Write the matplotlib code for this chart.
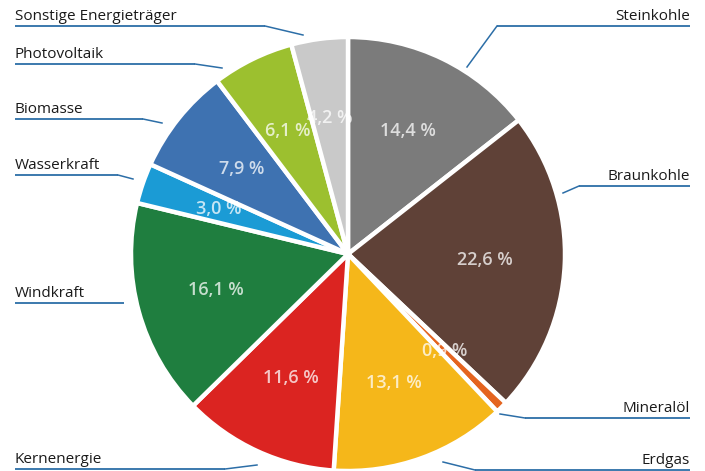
"""Bruttostromerzeugung nach Energietraegern als Tortendiagramm."""
import matplotlib
matplotlib.use("Agg")
import numpy as np
import matplotlib.pyplot as plt

plt.rcParams["font.family"] = ["Open Sans", "DejaVu Sans"]

# Anteile in Prozent, im Uhrzeigersinn ab 12 Uhr
sources = ["Steinkohle", "Braunkohle", "Mineralöl", "Erdgas", "Kernenergie",
           "Windkraft", "Wasserkraft", "Biomasse", "Photovoltaik",
           "Sonstige Energieträger"]
shares = [14.4, 22.6, 0.9, 13.1, 11.6, 16.1, 3.0, 7.9, 6.1, 4.2]
colors = ["#7b7b7b", "#5f4137", "#e4641f", "#f5b71a", "#db2421",
          "#1f7e3f", "#1b9bd5", "#3e72b1", "#9cc02f", "#c9c9c9"]

W, H = 705, 471
CX, CY, R = 348, 254, 217   # Pixel, y von oben

# Beschriftung: (Textanker x, Unterstrich y, Knick x, Endpunkt x, Endpunkt y, Seite)
callouts = {
    "Sonstige Energieträger": (15, 26, 265, 303, 35, "l"),
    "Photovoltaik": (15, 64, 195, 222, 68, "l"),
    "Biomasse": (15, 119, 143, 162, 123, "l"),
    "Wasserkraft": (15, 175, 118, 133, 179, "l"),
    "Windkraft": (15, 303, 124, 124, 303, "l"),
    "Kernenergie": (15, 469, 225, 257, 465, "l"),
    "Steinkohle": (690, 26, 497, 467, 67, "r"),
    "Braunkohle": (690, 186, 579, 563, 193, "r"),
    "Mineralöl": (690, 418, 525, 500, 414, "r"),
    "Erdgas": (690, 470, 475, 443, 462, "r"),
}
LINE = "#2c6ea7"


def fy(y):
    return H - y


fig = plt.figure(figsize=(W / 100, H / 100), dpi=100)
ax = fig.add_axes([0, 0, 1, 1])

wedges, _ = ax.pie(shares, colors=colors, startangle=90, counterclock=False,
                   center=(CX, fy(CY)), radius=R, frame=True,
                   wedgeprops=dict(edgecolor="white", linewidth=3.2))
ax.set_xlim(0, W)
ax.set_ylim(0, H)
ax.axis("off")

for w, val in zip(wedges, shares):
    ang = np.deg2rad((w.theta1 + w.theta2) / 2)
    d = 0.63 * R
    ax.text(CX + d * np.cos(ang), fy(CY) + d * np.sin(ang),
            f"{val:.1f} %".replace(".", ","), ha="center", va="center",
            color="white", alpha=0.75, fontsize=13, fontweight="semibold")

for name in sources:
    tx, uy, kx, ex, ey, side = callouts[name]
    x0, x1 = (tx, kx) if side == "l" else (kx, tx)
    ax.plot([x0, x1], [fy(uy), fy(uy)], color=LINE, lw=1.3,
            solid_capstyle="butt")
    ax.plot([kx, ex], [fy(uy), fy(ey)], color=LINE, lw=1.1)
    ax.text(tx, fy(uy) + 2, name, ha="left" if side == "l" else "right",
            va="bottom", fontsize=11, color="#1a1a1a")

fig.savefig("out.png", dpi=100)
